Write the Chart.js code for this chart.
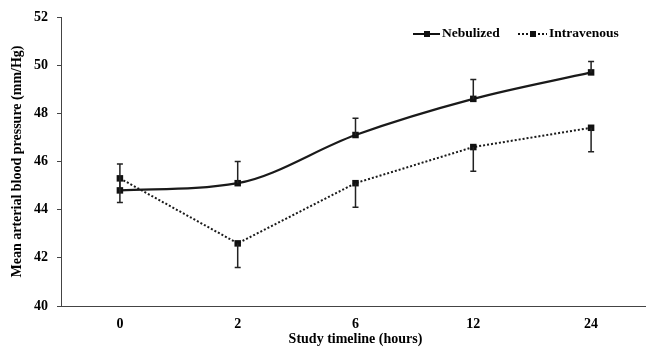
<!DOCTYPE html>
<html>
<head>
<meta charset="utf-8">
<script src="https://cdn.jsdelivr.net/npm/chart.js@4/dist/chart.umd.min.js"></script>
<style>
html,body{margin:0;padding:0;background:#fff;}
#wrap{width:646px;height:350px;position:relative;}
</style>
</head>
<body>
<div id="wrap"><canvas id="c" width="646" height="350"></canvas></div>
<script>
const categories = ['0', '2', '6', '12', '24'];
const nebulized = [44.8, 45.1, 47.1, 48.6, 49.7];
const nebulizedErrUp = [1.1, 0.9, 0.7, 0.8, 0.45];
const intravenous = [45.3, 42.6, 45.1, 46.6, 47.4];
const intravenousErrDown = [1.0, 1.0, 1.0, 1.0, 1.0];
const yTicks = [40, 42, 44, 46, 48, 50, 52];

const FONT = "'Liberation Serif', 'Times New Roman', serif";

const widenX = {
  id: 'widenX',
  afterLayout(chart) {
    const s = chart.scales.x;
    const newRight = 650;
    s.right = newRight;
    s.width = newRight - s.left;
    s.configure();
    chart.chartArea.right = newRight;
    chart.chartArea.width = newRight - chart.chartArea.left;
  }
};

const errorBars = {
  id: 'errorBars',
  afterDatasetsDraw(chart) {
    const ctx = chart.ctx;
    const x = chart.scales.x, y = chart.scales.y;
    ctx.save();
    ctx.strokeStyle = '#222';
    ctx.lineWidth = 1.5;
    const draw = (i, v, e) => {
      const px = x.getPixelForValue(i);
      const p1 = y.getPixelForValue(v), p2 = y.getPixelForValue(v + e);
      ctx.beginPath();
      ctx.moveTo(px, p1); ctx.lineTo(px, p2);
      ctx.moveTo(px - 3, p2); ctx.lineTo(px + 3, p2);
      ctx.stroke();
    };
    nebulized.forEach((v, i) => draw(i, v, nebulizedErrUp[i]));
    intravenous.forEach((v, i) => draw(i, v, -intravenousErrDown[i]));
    ctx.restore();
  }
};

const customLegend = {
  id: 'customLegend',
  afterDraw(chart) {
    const ctx = chart.ctx;
    ctx.save();
    const yc = 34;
    ctx.fillStyle = '#111';
    ctx.strokeStyle = '#111';
    ctx.lineWidth = 2;
    ctx.setLineDash([]);
    ctx.beginPath(); ctx.moveTo(413, yc); ctx.lineTo(440, yc); ctx.stroke();
    ctx.fillRect(424, yc - 3, 6, 6);
    ctx.setLineDash([2, 2]);
    ctx.beginPath(); ctx.moveTo(518, yc); ctx.lineTo(547, yc); ctx.stroke();
    ctx.setLineDash([]);
    ctx.fillRect(530, yc - 3, 6, 6);
    ctx.font = 'bold 13.5px ' + FONT;
    ctx.textBaseline = 'middle';
    ctx.textAlign = 'left';
    ctx.fillStyle = '#000';
    ctx.fillText('Nebulized', 442, yc);
    ctx.fillText('Intravenous', 549, yc);
    ctx.restore();
  }
};

new Chart(document.getElementById('c'), {
  type: 'line',
  data: {
    labels: categories,
    datasets: [
      {
        label: 'Nebulized',
        data: nebulized,
        borderColor: '#1a1a1a',
        backgroundColor: '#111',
        borderWidth: 2.2,
        cubicInterpolationMode: 'monotone',
        pointStyle: 'rect',
        pointRadius: 4.6,
        pointBorderWidth: 0,
        clip: false
      },
      {
        label: 'Intravenous',
        data: intravenous,
        borderColor: '#1a1a1a',
        backgroundColor: '#111',
        borderWidth: 2,
        borderDash: [2, 2],
        tension: 0,
        pointStyle: 'rect',
        pointRadius: 4.6,
        pointBorderWidth: 0,
        clip: false
      }
    ]
  },
  options: {
    responsive: false,
    animation: false,
    layout: { autoPadding: false, padding: { top: 17, right: 0, left: 0, bottom: 0 } },
    plugins: { legend: { display: false }, tooltip: { enabled: false } },
    scales: {
      x: {
        offset: true,
        grid: { display: true, drawOnChartArea: false, drawTicks: false },
        border: { display: true, color: '#444', width: 1 },
        ticks: { color: '#000', font: { family: FONT, size: 14, weight: 'bold' }, padding: 10 },
        title: { display: true, text: 'Study timeline (hours)', color: '#000', font: { family: FONT, size: 14, weight: 'bold' }, padding: { top: 0, bottom: 2 } },
        afterFit(s) { s.height = 44; s.paddingLeft = 0; s.paddingRight = 0; }
      },
      y: {
        min: 40, max: 52,
        afterBuildTicks(s) { s.ticks = yTicks.map(v => ({ value: v })); },
        grid: { display: true, drawOnChartArea: false, drawTicks: true, tickLength: 4, color: '#444' },
        border: { display: true, color: '#444', width: 1 },
        ticks: { color: '#000', font: { family: FONT, size: 14, weight: 'bold' }, padding: 9 },
        title: { display: true, text: 'Mean arterial blood pressure (mm/Hg)', color: '#000', font: { family: FONT, size: 14, weight: 'bold' }, padding: { top: 9, bottom: 6 } },
        afterFit(s) { s.width = 61; s.paddingTop = 0; s.paddingBottom = 0; }
      }
    }
  },
  plugins: [widenX, errorBars, customLegend]
});
</script>
</body>
</html>
